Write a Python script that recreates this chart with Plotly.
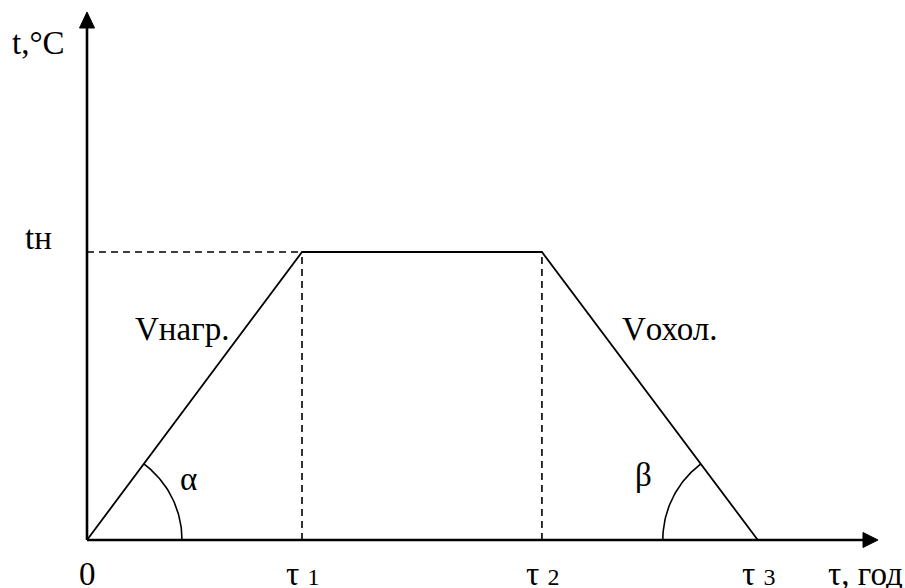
import numpy as np
import plotly.graph_objects as go

# ---- data (schematic heat-treatment profile) ----
tau_points = [0.0, 1.0, 2.116, 3.12]      # 0, τ1, τ2, τ3
temp_points = [0.0, 1.0, 1.0, 0.0]        # t at those moments (tн = 1)
t_n = 1.0
tau_tick_labels = ["0", "τ 1", "τ 2", "τ 3"]
x_axis_title = "τ, год"
y_axis_title = "t,°C"
t_n_label = "tн"
heat_label = "Vнагр."
cool_label = "Vохол."

# ---- geometry of the canvas ----
W, H = 905, 588
PX_X, PX_Y = 215.0, 288.0           # pixels per data unit
X0_PX, Y0_PX = 87.0, 540.0          # origin position in pixels
x_range = [-X0_PX / PX_X, (W - X0_PX) / PX_X]
y_range = [-(H - Y0_PX) / PX_Y, Y0_PX / PX_Y]

FONT = "Liberation Serif, Times New Roman, Times, serif"
FS = 33
SUB = "<span style='font-size:24px'>%s</span>"

fig = go.Figure()

# main profile
fig.add_trace(go.Scatter(x=tau_points, y=temp_points, mode="lines",
                         line=dict(color="black", width=1.8), hoverinfo="skip"))

# dashed guides
dash = "7px,5px"
fig.add_trace(go.Scatter(x=[0, tau_points[1]], y=[t_n, t_n], mode="lines",
                         line=dict(color="black", width=1.6, dash=dash), hoverinfo="skip"))
for k in (1, 2):
    fig.add_trace(go.Scatter(x=[tau_points[k], tau_points[k]], y=[0, temp_points[k]], mode="lines",
                             line=dict(color="black", width=1.6, dash=dash), hoverinfo="skip"))

# angle arcs (circular in pixel space)
R = 95.0
a_heat = np.arctan2((temp_points[1] - temp_points[0]) * PX_Y, (tau_points[1] - tau_points[0]) * PX_X)
th = np.linspace(0, a_heat, 40)
fig.add_trace(go.Scatter(x=tau_points[0] + R * np.cos(th) / PX_X, y=R * np.sin(th) / PX_Y,
                         mode="lines", line=dict(color="black", width=1.6), hoverinfo="skip"))
a_cool = np.arctan2((temp_points[2] - temp_points[3]) * PX_Y, (tau_points[3] - tau_points[2]) * PX_X)
th = np.linspace(np.pi - a_cool, np.pi, 40)
fig.add_trace(go.Scatter(x=tau_points[3] + R * np.cos(th) / PX_X, y=R * np.sin(th) / PX_Y,
                         mode="lines", line=dict(color="black", width=1.6), hoverinfo="skip"))

# axes with arrows
x_tip = (878 - X0_PX) / PX_X
x_base = (863 - X0_PX) / PX_X
y_tip = (Y0_PX - 12) / PX_Y
y_base = (Y0_PX - 28) / PX_Y
hw_x = 7.5 / PX_Y
hw_y = 7.5 / PX_X
shapes = [
    dict(type="line", x0=0, y0=0, x1=x_base, y1=0, line=dict(color="black", width=2.6)),
    dict(type="line", x0=0, y0=0, x1=0, y1=y_base, line=dict(color="black", width=2.6)),
    dict(type="path", path=f"M {x_base},{-hw_x} L {x_tip},0 L {x_base},{hw_x} Z",
         fillcolor="black", line=dict(color="black", width=1)),
    dict(type="path", path=f"M {-hw_y},{y_base} L 0,{y_tip} L {hw_y},{y_base} Z",
         fillcolor="black", line=dict(color="black", width=1)),
]

ann = []
def label(text, x, y, size=FS):
    ann.append(dict(text=text, x=x, y=y, xref="x", yref="y", showarrow=False,
                    font=dict(family=FONT, size=size, color="black"),
                    xanchor="center", yanchor="middle"))

ty = -34 / PX_Y
label(tau_tick_labels[0], tau_points[0], ty)
for k in (1, 2, 3):
    name, num = tau_tick_labels[k].split(" ")
    label(name + " " + SUB % num, tau_points[k] + 1 / PX_X, ty)
label(x_axis_title, (865 - X0_PX) / PX_X, ty)
label(y_axis_title, -49 / PX_X, (Y0_PX - 43) / PX_Y)
label(t_n_label, -49 / PX_X, t_n + 14 / PX_Y)
label(heat_label, (182 - X0_PX) / PX_X, (Y0_PX - 329) / PX_Y)
label(cool_label, (670 - X0_PX) / PX_X, (Y0_PX - 329) / PX_Y)
label("α", (188 - X0_PX) / PX_X, (Y0_PX - 479) / PX_Y)
label("β", (643 - X0_PX) / PX_X, (Y0_PX - 475) / PX_Y)

fig.update_layout(
    width=W, height=H, margin=dict(l=0, r=0, t=0, b=0),
    paper_bgcolor="white", plot_bgcolor="white", showlegend=False,
    xaxis=dict(range=x_range, visible=False, fixedrange=True),
    yaxis=dict(range=y_range, visible=False, fixedrange=True),
    shapes=shapes, annotations=ann,
)
fig.write_html("out.html", config={"displayModeBar": False},
               post_script="document.body.style.margin='0';document.body.style.overflow='hidden';")
